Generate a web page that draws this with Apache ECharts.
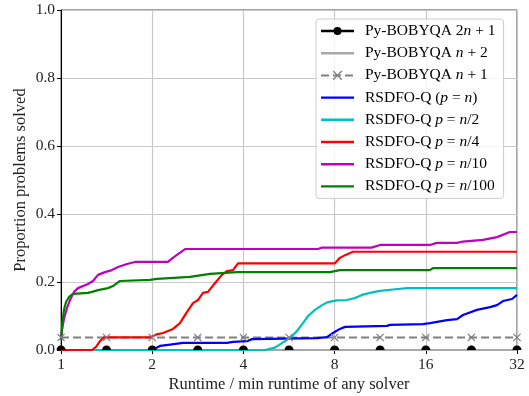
<!DOCTYPE html>
<html>
<head>
<meta charset="utf-8">
<script src="https://cdn.jsdelivr.net/npm/echarts@6/dist/echarts.min.js"></script>
<style>
  html, body { margin: 0; padding: 0; background: #fff; }
  #chart { width: 529px; height: 396px; }
</style>
</head>
<body>
<div id="chart"></div>
<script>
// Performance profile: proportion of problems solved vs runtime ratio (log2 axis)
const seriesNames = [
  'Py-BOBYQA 2n + 1',
  'Py-BOBYQA n + 2',
  'Py-BOBYQA n + 1',
  'RSDFO-Q (p = n)',
  'RSDFO-Q p = n/2',
  'RSDFO-Q p = n/4',
  'RSDFO-Q p = n/10',
  'RSDFO-Q p = n/100'
];

const xTicks = [1, 2, 4, 8, 16, 32];
const yTicks = [0, 0.2, 0.4, 0.6, 0.8, 1.0];

// Marker positions of the Py-BOBYQA profiles (every half octave)
const markerRatios = [1, 1.414, 2, 2.828, 4, 5.657, 8, 11.31, 16, 22.63, 32];
const bobyqa2n1 = [0, 0, 0, 0, 0, 0, 0, 0, 0, 0, 0];
const bobyqaN2 = [0, 0, 0, 0, 0, 0, 0, 0, 0, 0, 0];
const bobyqaN1 = [0.037, 0.037, 0.037, 0.037, 0.037, 0.037, 0.037, 0.037, 0.037, 0.037, 0.037];

// RSDFO-Q profiles as [ratio, proportion] pairs
const rsdfoFull = [
  [1, 0], [2, 0], [2.122, 0.012], [2.29, 0.016], [2.528, 0.021], [3.531, 0.021],
  [3.696, 0.024], [4.11, 0.026], [4.27, 0.032], [7.0, 0.035], [7.55, 0.038],
  [7.9, 0.05], [8.33, 0.062], [8.66, 0.068], [11.92, 0.071], [12.19, 0.074],
  [15.66, 0.076], [16.52, 0.079], [18.8, 0.088], [20.28, 0.091], [21.23, 0.103],
  [23.61, 0.118], [26.07, 0.126], [27.49, 0.132], [28.77, 0.144], [30.8, 0.15],
  [32, 0.162]
];
const rsdfoHalf = [
  [1, 0], [4.71, 0], [5.08, 0.007], [5.49, 0.026], [5.79, 0.041], [6.01, 0.056],
  [6.29, 0.079], [6.54, 0.1], [6.89, 0.118], [7.27, 0.132], [7.61, 0.141],
  [8.15, 0.146], [8.79, 0.147], [9.34, 0.153], [9.85, 0.162], [10.47, 0.168],
  [11.3, 0.174], [12.47, 0.178], [13.87, 0.182], [32, 0.182]
];
const rsdfoQuarter = [
  [1, 0], [1.266, 0], [1.305, 0.009], [1.345, 0.026], [1.387, 0.037], [1.967, 0.037],
  [2.074, 0.046], [2.171, 0.05], [2.255, 0.056], [2.343, 0.062], [2.47, 0.079],
  [2.606, 0.112], [2.727, 0.138], [2.832, 0.147], [2.942, 0.168], [3.056, 0.171],
  [3.224, 0.197], [3.399, 0.221], [3.531, 0.232], [3.696, 0.235], [3.839, 0.255],
  [8.02, 0.255], [8.33, 0.271], [8.66, 0.279], [9.2, 0.289], [32, 0.289]
];
const rsdfoTenth = [
  [1, 0.03], [1.0076, 0.06], [1.023, 0.092], [1.047, 0.124], [1.071, 0.147],
  [1.104, 0.171], [1.138, 0.182], [1.228, 0.194], [1.275, 0.203], [1.325, 0.221],
  [1.397, 0.229], [1.473, 0.235], [1.542, 0.244], [1.652, 0.253], [1.754, 0.259],
  [2.255, 0.259], [2.34, 0.271], [2.433, 0.282], [2.567, 0.297], [7.05, 0.297],
  [7.27, 0.301], [10.6, 0.301], [11.3, 0.309], [16.5, 0.309], [17.4, 0.315],
  [20.3, 0.315], [21.2, 0.319], [24.7, 0.324], [27.5, 0.332], [30.3, 0.347],
  [32, 0.347]
];
const rsdfoHundredth = [
  [1, 0.03], [1.0076, 0.06], [1.0115, 0.084], [1.023, 0.118], [1.039, 0.141],
  [1.063, 0.156], [1.095, 0.165], [1.228, 0.168], [1.266, 0.171], [1.325, 0.176],
  [1.429, 0.182], [1.484, 0.188], [1.566, 0.203], [1.967, 0.206], [2.074, 0.209],
  [2.665, 0.215], [3.103, 0.224], [3.81, 0.229], [7.72, 0.229], [8.33, 0.235],
  [16.5, 0.235], [16.9, 0.241], [32, 0.241]
];

const FONT = 'Liberation Serif';
// Marker shapes
const halfDisc = 'path://M0,10 A10,10 0 0 1 20,10 Z';
const crossMark = 'path://M0,1 L1,0 L5,4 L9,0 L10,1 L6,5 L10,9 L9,10 L5,6 L1,10 L0,9 L4,5 Z';
// Legend icons: plain line, and line with a dot in the middle
const lineIcon = 'path://M0,0 L33,0 L33,2.4 L0,2.4 Z';
const dotLineIcon = 'path://M0,3.8 L33,3.8 L33,6.2 L0,6.2 Z M12.5,5 A4,4 0 1 1 20.5,5 A4,4 0 1 1 12.5,5 Z';

function zipRatios(values) {
  return markerRatios.map((r, i) => [r, values[i]]);
}

function lineSeries(name, data, color, extra) {
  return Object.assign({
    name: name,
    type: 'line',
    data: data,
    symbol: 'none',
    showSymbol: false,
    animation: false,
    lineStyle: { color: color, width: 2.2 },
    itemStyle: { color: color },
    emphasis: { disabled: true }
  }, extra || {});
}

// Italicise the math symbols n and p in legend entries
function legendLabel(name) {
  const parts = name.split(/(?<![A-Za-z])([np])(?![A-Za-z])/);
  return parts.map((s, i) => {
    if (s === '') return '';
    return (i % 2 === 1) ? '{i|' + s + '}' : '{r|' + s + '}';
  }).join('');
}

const legendIcons = [dotLineIcon, lineIcon, null, lineIcon, lineIcon, lineIcon, lineIcon, lineIcon];

const chart = echarts.init(document.getElementById('chart'), null, { renderer: 'canvas' });

chart.setOption({
  animation: false,
  backgroundColor: '#ffffff',
  grid: {
    left: 61, right: 12, top: 10, bottom: 46,
    containLabel: false,
    outerBoundsMode: 'none',
    show: true, borderColor: '#444', borderWidth: 1, backgroundColor: 'transparent'
  },
  legend: {
    orient: 'vertical',
    left: 316, top: 19,
    padding: [4, 8, 4, 4],
    itemWidth: 33, itemHeight: 12, itemGap: 6.2,
    symbolKeepAspect: true,
    backgroundColor: 'rgba(255,255,255,0.8)',
    borderColor: '#cccccc', borderWidth: 1, borderRadius: 3,
    data: seriesNames.map((n, i) => legendIcons[i] ? { name: n, icon: legendIcons[i] } : { name: n }),
    formatter: legendLabel,
    textStyle: {
      padding: [0, 0, 0, 6],
      rich: {
        r: { fontFamily: FONT, fontSize: 15.5, color: '#000' },
        i: { fontFamily: FONT, fontSize: 15.5, fontStyle: 'italic', color: '#000' }
      }
    }
  },
  xAxis: {
    type: 'log', logBase: 2, min: xTicks[0], max: xTicks[xTicks.length - 1],
    name: 'Runtime / min runtime of any solver',
    nameLocation: 'middle', nameGap: 26, nameMoveOverlap: false,
    nameTextStyle: { fontFamily: FONT, fontSize: 16.5, color: '#222' },
    axisLine: { show: true, lineStyle: { color: '#000', width: 1 } },
    axisTick: { show: true, length: 4, lineStyle: { color: '#000' } },
    axisLabel: {
      fontFamily: FONT, fontSize: 15.5, color: '#222', margin: 7,
      formatter: v => String(Math.round(v))
    },
    splitLine: { show: true, lineStyle: { color: '#c8c8c8', width: 1.2 } },
    minorTick: { show: false }
  },
  yAxis: {
    type: 'value', min: yTicks[0], max: yTicks[yTicks.length - 1], interval: 0.2,
    name: 'Proportion problems solved',
    nameLocation: 'middle', nameGap: 32, nameMoveOverlap: false,
    nameTextStyle: { fontFamily: FONT, fontSize: 16.5, color: '#222' },
    axisLine: { show: true, lineStyle: { color: '#000', width: 1 } },
    axisTick: { show: true, length: 4, lineStyle: { color: '#000' } },
    axisLabel: {
      fontFamily: FONT, fontSize: 15.5, color: '#222', margin: 6,
      formatter: v => v.toFixed(1)
    },
    splitLine: { show: true, lineStyle: { color: '#c8c8c8', width: 1.2 } }
  },
  series: [
    lineSeries(seriesNames[0], zipRatios(bobyqa2n1), '#000000', {
      symbol: halfDisc, showSymbol: true, symbolSize: [9, 4.5], symbolOffset: [0, '-50%'],
      lineStyle: { color: '#000000', width: 2 }
    }),
    lineSeries(seriesNames[1], zipRatios(bobyqaN2), '#a8a8a8', {
      lineStyle: { color: '#a8a8a8', width: 2 }
    }),
    lineSeries(seriesNames[2], zipRatios(bobyqaN1), '#808080', {
      symbol: crossMark, showSymbol: true, symbolSize: 8,
      lineStyle: { color: '#808080', width: 2, type: [8, 4] }
    }),
    lineSeries(seriesNames[3], rsdfoFull, '#0000ff'),
    lineSeries(seriesNames[4], rsdfoHalf, '#00bfbf'),
    lineSeries(seriesNames[5], rsdfoQuarter, '#ff0000'),
    lineSeries(seriesNames[6], rsdfoTenth, '#bf00bf'),
    lineSeries(seriesNames[7], rsdfoHundredth, '#008000')
  ]
});
</script>
</body>
</html>
